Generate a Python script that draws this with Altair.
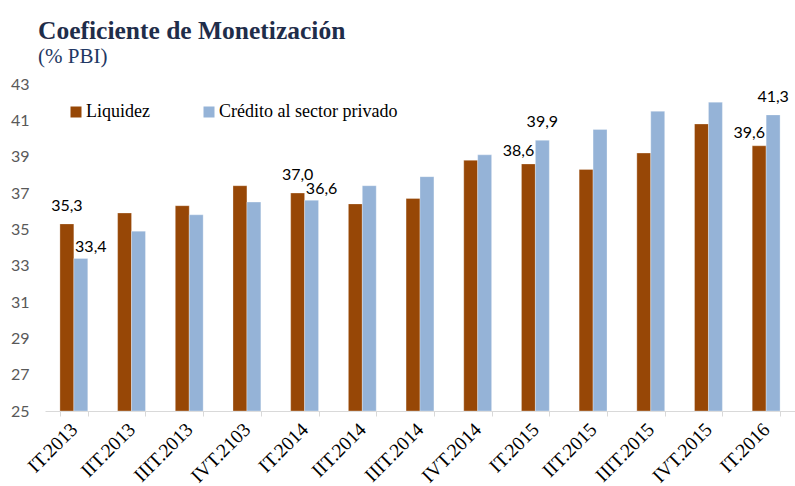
import altair as alt
import pandas as pd

quarters = ["IT.2013", "IIT.2013", "IIIT.2013", "IVT.2103", "IT.2014", "IIT.2014",
            "IIIT.2014", "IVT.2014", "IT.2015", "IIT.2015", "IIIT.2015", "IVT.2015", "IT.2016"]
liquidez = [35.3, 35.9, 36.3, 37.4, 37.0, 36.4, 36.7, 38.8, 38.6, 38.3, 39.2, 40.8, 39.6]
credito = [33.4, 34.9, 35.8, 36.5, 36.6, 37.4, 37.9, 39.1, 39.9, 40.5, 41.5, 42.0, 41.3]
series = ["Liquidez", "Crédito al sector privado"]
y_ticks = [25, 27, 29, 31, 33, 35, 37, 39, 41, 43]

# which bars carry a value label, and on which side of the bar the label sits
labels_center = [("IT.2013", "Liquidez"), ("IT.2014", "Liquidez"),
                 ("IT.2015", "Crédito al sector privado"), ("IT.2016", "Crédito al sector privado")]
labels_right = [("IT.2013", "Crédito al sector privado"), ("IT.2014", "Crédito al sector privado")]
labels_left = [("IT.2015", "Liquidez"), ("IT.2016", "Liquidez")]

rows = []
for q, l, c in zip(quarters, liquidez, credito):
    rows.append({"q": q, "serie": series[0], "v": l})
    rows.append({"q": q, "serie": series[1], "v": c})
df = pd.DataFrame(rows)


def pos(row):
    k = (row["q"], row["serie"])
    if k in labels_center:
        return "c"
    if k in labels_right:
        return "r"
    if k in labels_left:
        return "l"
    return ""


df["lab"] = df.apply(pos, axis=1)

colors = ["#974706", "#95B3D7"]

x_enc = alt.X("q:N", sort=quarters, title=None,
              scale=alt.Scale(paddingInner=0.517, paddingOuter=0.2585),
              axis=alt.Axis(labelAngle=-45, labelAlign="right", labelBaseline="middle",
                            labelFont="Liberation Serif", labelFontSize=19.5, labelColor="#000000",
                            labelPadding=10, domainColor="#D9D9D9", tickColor="#D9D9D9",
                            tickSize=5, tickBand="extent", grid=False, labelOverlap=False))
y_enc = alt.Y("v:Q", title=None,
              scale=alt.Scale(domain=[25, 43], nice=False, zero=False, clamp=True),
              axis=alt.Axis(values=y_ticks, domain=False, ticks=False, grid=False,
                            labelFont="Lato", labelFontSize=16, labelColor="#595959",
                            labelPadding=16, labelOverlap=False))
xo = alt.XOffset("serie:N", sort=series, scale=alt.Scale(paddingInner=0, paddingOuter=0))

bars = alt.Chart(df).mark_bar(stroke="#FFFFFF", strokeWidth=0.6, strokeOpacity=0.5).encode(
    x=x_enc, y=y_enc, xOffset=xo,
    color=alt.Color("serie:N", sort=series,
                    scale=alt.Scale(domain=series, range=colors),
                    legend=alt.Legend(title=None, orient="none", legendX=22, legendY=19,
                                      direction="horizontal", symbolType="square",
                                      symbolSize=121, symbolStrokeWidth=0,
                                      labelFont="Liberation Serif", labelFontSize=18,
                                      labelColor="#000000", labelOffset=1,
                                      columnPadding=50, labelLimit=300)),
)

def text_layer(side, dx, dy):
    return alt.Chart(df).transform_filter(alt.datum.lab == side).transform_calculate(
        t="replace(format(datum.v, '.1f'), '.', ',')"
    ).mark_text(font="Lato", fontSize=16, color="#000000", dx=dx, dy=dy,
                baseline="middle", align="center").encode(
        x=x_enc, y=y_enc, xOffset=xo, text="t:N")

chart = alt.layer(
    bars,
    text_layer("c", 0, -18),
    text_layer("r", 10, -11),
    text_layer("l", -10, -13),
).properties(
    width=750, height=327,
    title=alt.TitleParams(text="Coeficiente de Monetización", subtitle="(% PBI)",
                          anchor="start", frame="group", dx=-7, offset=9,
                          font="Liberation Serif", fontSize=25.5, fontWeight="bold",
                          color="#1F2D4A", subtitleFont="Liberation Serif",
                          subtitleFontSize=21, subtitleColor="#1F3864", subtitlePadding=2),
    autosize=alt.AutoSizeParams(type="none"),
    padding={"left": 45, "top": 84, "right": 0, "bottom": 75},
).configure(background="white").configure_view(strokeWidth=0, stroke=None)

chart.save("out.html", embed_options={"renderer": "svg", "actions": False})
